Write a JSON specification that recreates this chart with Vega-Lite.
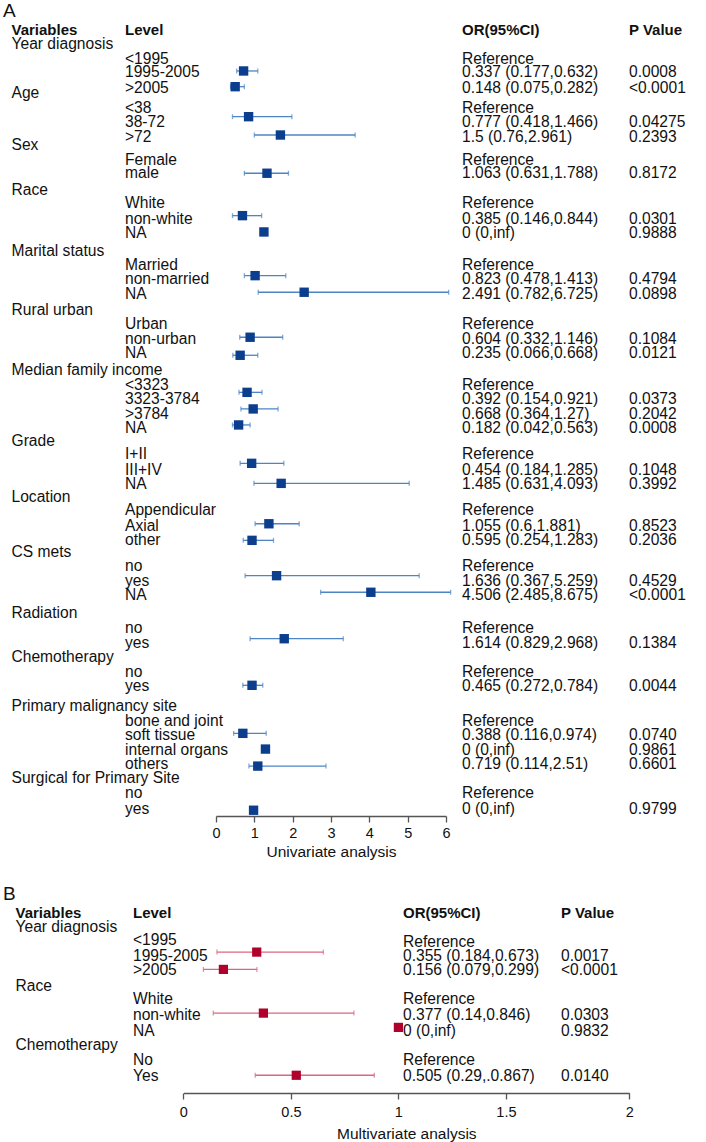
{
  "$schema": "https://vega.github.io/schema/vega-lite/v6.json",
  "padding": 0,
  "background": "white",
  "bounds": "flush",
  "spacing": 65,
  "config": {"view": {"stroke": null}, "font": "Liberation Sans", "axis": {"grid": false}, "text": {"color": "#111"}},
  "datasets": {
    "tableA": [
      {"role":"panel","col":0,"line":-2.3,"text":"A"},
      {"role":"header","col":1,"line":-1.0,"text":"Variables"},
      {"role":"header","col":2,"line":-1.0,"text":"Level"},
      {"role":"header","col":3,"line":-1.0,"text":"OR(95%CI)"},
      {"role":"header","col":4,"line":-1.0,"text":"P Value"},
      {"role":"cell","col":1,"line":0.0,"text":"Year diagnosis"},
      {"role":"cell","col":2,"line":1.0,"text":"<1995"},
      {"role":"cell","col":3,"line":1.0,"text":"Reference"},
      {"role":"cell","col":2,"line":1.9,"text":"1995-2005"},
      {"role":"cell","col":3,"line":1.9,"text":"0.337 (0.177,0.632)"},
      {"role":"cell","col":4,"line":1.9,"text":"0.0008"},
      {"role":"cell","col":2,"line":3.0,"text":">2005"},
      {"role":"cell","col":3,"line":3.0,"text":"0.148 (0.075,0.282)"},
      {"role":"cell","col":4,"line":3.0,"text":"<0.0001"},
      {"role":"cell","col":1,"line":3.4,"text":"Age"},
      {"role":"cell","col":2,"line":4.4,"text":"<38"},
      {"role":"cell","col":3,"line":4.4,"text":"Reference"},
      {"role":"cell","col":2,"line":5.4,"text":"38-72"},
      {"role":"cell","col":3,"line":5.4,"text":"0.777 (0.418,1.466)"},
      {"role":"cell","col":4,"line":5.4,"text":"0.04275"},
      {"role":"cell","col":2,"line":6.4,"text":">72"},
      {"role":"cell","col":3,"line":6.4,"text":"1.5 (0.76,2.961)"},
      {"role":"cell","col":4,"line":6.4,"text":"0.2393"},
      {"role":"cell","col":1,"line":7.0,"text":"Sex"},
      {"role":"cell","col":2,"line":8.0,"text":"Female"},
      {"role":"cell","col":3,"line":8.0,"text":"Reference"},
      {"role":"cell","col":2,"line":8.9,"text":"male"},
      {"role":"cell","col":3,"line":8.9,"text":"1.063 (0.631,1.788)"},
      {"role":"cell","col":4,"line":8.9,"text":"0.8172"},
      {"role":"cell","col":1,"line":10.1,"text":"Race"},
      {"role":"cell","col":2,"line":11.0,"text":"White"},
      {"role":"cell","col":3,"line":11.0,"text":"Reference"},
      {"role":"cell","col":2,"line":12.1,"text":"non-white"},
      {"role":"cell","col":3,"line":12.1,"text":"0.385 (0.146,0.844)"},
      {"role":"cell","col":4,"line":12.1,"text":"0.0301"},
      {"role":"cell","col":2,"line":13.1,"text":"NA"},
      {"role":"cell","col":3,"line":13.1,"text":"0 (0,inf)"},
      {"role":"cell","col":4,"line":13.1,"text":"0.9888"},
      {"role":"cell","col":1,"line":14.3,"text":"Marital status"},
      {"role":"cell","col":2,"line":15.3,"text":"Married"},
      {"role":"cell","col":3,"line":15.3,"text":"Reference"},
      {"role":"cell","col":2,"line":16.3,"text":"non-married"},
      {"role":"cell","col":3,"line":16.3,"text":"0.823 (0.478,1.413)"},
      {"role":"cell","col":4,"line":16.3,"text":"0.4794"},
      {"role":"cell","col":2,"line":17.3,"text":"NA"},
      {"role":"cell","col":3,"line":17.3,"text":"2.491 (0.782,6.725)"},
      {"role":"cell","col":4,"line":17.3,"text":"0.0898"},
      {"role":"cell","col":1,"line":18.4,"text":"Rural urban"},
      {"role":"cell","col":2,"line":19.4,"text":"Urban"},
      {"role":"cell","col":3,"line":19.4,"text":"Reference"},
      {"role":"cell","col":2,"line":20.4,"text":"non-urban"},
      {"role":"cell","col":3,"line":20.4,"text":"0.604 (0.332,1.146)"},
      {"role":"cell","col":4,"line":20.4,"text":"0.1084"},
      {"role":"cell","col":2,"line":21.4,"text":"NA"},
      {"role":"cell","col":3,"line":21.4,"text":"0.235 (0.066,0.668)"},
      {"role":"cell","col":4,"line":21.4,"text":"0.0121"},
      {"role":"cell","col":1,"line":22.6,"text":"Median family income"},
      {"role":"cell","col":2,"line":23.6,"text":"<3323"},
      {"role":"cell","col":3,"line":23.6,"text":"Reference"},
      {"role":"cell","col":2,"line":24.6,"text":"3323-3784"},
      {"role":"cell","col":3,"line":24.6,"text":"0.392 (0.154,0.921)"},
      {"role":"cell","col":4,"line":24.6,"text":"0.0373"},
      {"role":"cell","col":2,"line":25.6,"text":">3784"},
      {"role":"cell","col":3,"line":25.6,"text":"0.668 (0.364,1.27)"},
      {"role":"cell","col":4,"line":25.6,"text":"0.2042"},
      {"role":"cell","col":2,"line":26.6,"text":"NA"},
      {"role":"cell","col":3,"line":26.6,"text":"0.182 (0.042,0.563)"},
      {"role":"cell","col":4,"line":26.6,"text":"0.0008"},
      {"role":"cell","col":1,"line":27.5,"text":"Grade"},
      {"role":"cell","col":2,"line":28.4,"text":"I+II"},
      {"role":"cell","col":3,"line":28.4,"text":"Reference"},
      {"role":"cell","col":2,"line":29.5,"text":"III+IV"},
      {"role":"cell","col":3,"line":29.5,"text":"0.454 (0.184,1.285)"},
      {"role":"cell","col":4,"line":29.5,"text":"0.1048"},
      {"role":"cell","col":2,"line":30.5,"text":"NA"},
      {"role":"cell","col":3,"line":30.5,"text":"1.485 (0.631,4.093)"},
      {"role":"cell","col":4,"line":30.5,"text":"0.3992"},
      {"role":"cell","col":1,"line":31.4,"text":"Location"},
      {"role":"cell","col":2,"line":32.3,"text":"Appendicular"},
      {"role":"cell","col":3,"line":32.3,"text":"Reference"},
      {"role":"cell","col":2,"line":33.4,"text":"Axial"},
      {"role":"cell","col":3,"line":33.4,"text":"1.055 (0.6,1.881)"},
      {"role":"cell","col":4,"line":33.4,"text":"0.8523"},
      {"role":"cell","col":2,"line":34.4,"text":"other"},
      {"role":"cell","col":3,"line":34.4,"text":"0.595 (0.254,1.283)"},
      {"role":"cell","col":4,"line":34.4,"text":"0.2036"},
      {"role":"cell","col":1,"line":35.2,"text":"CS mets"},
      {"role":"cell","col":2,"line":36.2,"text":"no"},
      {"role":"cell","col":3,"line":36.2,"text":"Reference"},
      {"role":"cell","col":2,"line":37.2,"text":"yes"},
      {"role":"cell","col":3,"line":37.2,"text":"1.636 (0.367,5.259)"},
      {"role":"cell","col":4,"line":37.2,"text":"0.4529"},
      {"role":"cell","col":2,"line":38.2,"text":"NA"},
      {"role":"cell","col":3,"line":38.2,"text":"4.506 (2.485,8.675)"},
      {"role":"cell","col":4,"line":38.2,"text":"<0.0001"},
      {"role":"cell","col":1,"line":39.4,"text":"Radiation"},
      {"role":"cell","col":2,"line":40.5,"text":"no"},
      {"role":"cell","col":3,"line":40.5,"text":"Reference"},
      {"role":"cell","col":2,"line":41.5,"text":"yes"},
      {"role":"cell","col":3,"line":41.5,"text":"1.614 (0.829,2.968)"},
      {"role":"cell","col":4,"line":41.5,"text":"0.1384"},
      {"role":"cell","col":1,"line":42.5,"text":"Chemotherapy"},
      {"role":"cell","col":2,"line":43.5,"text":"no"},
      {"role":"cell","col":3,"line":43.5,"text":"Reference"},
      {"role":"cell","col":2,"line":44.5,"text":"yes"},
      {"role":"cell","col":3,"line":44.5,"text":"0.465 (0.272,0.784)"},
      {"role":"cell","col":4,"line":44.5,"text":"0.0044"},
      {"role":"cell","col":1,"line":45.9,"text":"Primary malignancy site"},
      {"role":"cell","col":2,"line":46.9,"text":"bone and joint"},
      {"role":"cell","col":3,"line":46.9,"text":"Reference"},
      {"role":"cell","col":2,"line":47.9,"text":"soft tissue"},
      {"role":"cell","col":3,"line":47.9,"text":"0.388 (0.116,0.974)"},
      {"role":"cell","col":4,"line":47.9,"text":"0.0740"},
      {"role":"cell","col":2,"line":48.9,"text":"internal organs"},
      {"role":"cell","col":3,"line":48.9,"text":"0 (0,inf)"},
      {"role":"cell","col":4,"line":48.9,"text":"0.9861"},
      {"role":"cell","col":2,"line":49.9,"text":"others"},
      {"role":"cell","col":3,"line":49.9,"text":"0.719 (0.114,2.51)"},
      {"role":"cell","col":4,"line":49.9,"text":"0.6601"},
      {"role":"cell","col":1,"line":50.9,"text":"Surgical for Primary Site"},
      {"role":"cell","col":2,"line":51.9,"text":"no"},
      {"role":"cell","col":3,"line":51.9,"text":"Reference"},
      {"role":"cell","col":2,"line":53.0,"text":"yes"},
      {"role":"cell","col":3,"line":53.0,"text":"0 (0,inf)"},
      {"role":"cell","col":4,"line":53.0,"text":"0.9799"}
    ],
    "forestA": [
      {"level":"1995-2005","or":0.72,"lo":0.54,"hi":1.09,"line":1.85},
      {"level":">2005","or":0.5,"lo":0.38,"hi":0.74,"line":2.94},
      {"level":"38-72","or":0.85,"lo":0.43,"hi":1.98,"line":5.02},
      {"level":">72","or":1.68,"lo":1.0,"hi":3.63,"line":6.29},
      {"level":"male","or":1.33,"lo":0.74,"hi":1.89,"line":8.94},
      {"level":"non-white","or":0.69,"lo":0.43,"hi":1.19,"line":11.88},
      {"level":"NA (race)","or":1.25,"lo":null,"hi":null,"line":13.01},
      {"level":"non-married","or":1.02,"lo":0.74,"hi":1.82,"line":16.04},
      {"level":"NA (marital)","or":2.3,"lo":1.1,"hi":6.07,"line":17.19},
      {"level":"non-urban","or":0.89,"lo":0.62,"hi":1.74,"line":20.31},
      {"level":"NA (rural)","or":0.63,"lo":0.44,"hi":1.09,"line":21.56},
      {"level":"3323-3784","or":0.81,"lo":0.6,"hi":1.2,"line":24.13},
      {"level":">3784","or":0.97,"lo":0.65,"hi":1.62,"line":25.28},
      {"level":"NA (income)","or":0.59,"lo":0.43,"hi":0.89,"line":26.39},
      {"level":"III+IV","or":0.93,"lo":0.63,"hi":1.77,"line":29.05},
      {"level":"NA (grade)","or":1.7,"lo":0.99,"hi":5.04,"line":30.44},
      {"level":"Axial","or":1.38,"lo":1.02,"hi":2.17,"line":33.24},
      {"level":"other","or":0.94,"lo":0.71,"hi":1.5,"line":34.39},
      {"level":"yes (CS mets)","or":1.58,"lo":0.76,"hi":5.3,"line":36.84},
      {"level":"NA (CS mets)","or":4.04,"lo":2.73,"hi":6.12,"line":37.99},
      {"level":"yes (radiation)","or":1.78,"lo":0.89,"hi":3.32,"line":41.21},
      {"level":"yes (chemotherapy)","or":0.94,"lo":0.7,"hi":1.22,"line":44.44},
      {"level":"soft tissue","or":0.7,"lo":0.46,"hi":1.31,"line":47.77},
      {"level":"internal organs","or":1.29,"lo":null,"hi":null,"line":48.86},
      {"level":"others","or":1.09,"lo":0.86,"hi":2.87,"line":50.04},
      {"level":"yes (surgery)","or":0.98,"lo":null,"hi":null,"line":53.1}
    ],
    "tableB": [
      {"role":"panel","col":0,"line":-2.3,"text":"B"},
      {"role":"header","col":1,"line":-1.0,"text":"Variables"},
      {"role":"header","col":2,"line":-1.0,"text":"Level"},
      {"role":"header","col":3,"line":-1.0,"text":"OR(95%CI)"},
      {"role":"header","col":4,"line":-1.0,"text":"P Value"},
      {"role":"cell","col":1,"line":0.0,"text":"Year diagnosis"},
      {"role":"cell","col":2,"line":0.9,"text":"<1995"},
      {"role":"cell","col":3,"line":1.0,"text":"Reference"},
      {"role":"cell","col":2,"line":2.0,"text":"1995-2005"},
      {"role":"cell","col":3,"line":2.0,"text":"0.355 (0.184,0.673)"},
      {"role":"cell","col":4,"line":2.0,"text":"0.0017"},
      {"role":"cell","col":2,"line":3.0,"text":">2005"},
      {"role":"cell","col":3,"line":3.0,"text":"0.156 (0.079,0.299)"},
      {"role":"cell","col":4,"line":3.0,"text":"<0.0001"},
      {"role":"cell","col":1,"line":4.1,"text":"Race"},
      {"role":"cell","col":2,"line":5.0,"text":"White"},
      {"role":"cell","col":3,"line":5.0,"text":"Reference"},
      {"role":"cell","col":2,"line":6.1,"text":"non-white"},
      {"role":"cell","col":3,"line":6.1,"text":"0.377 (0.14,0.846)"},
      {"role":"cell","col":4,"line":6.1,"text":"0.0303"},
      {"role":"cell","col":2,"line":7.2,"text":"NA"},
      {"role":"cell","col":3,"line":7.2,"text":"0 (0,inf)"},
      {"role":"cell","col":4,"line":7.2,"text":"0.9832"},
      {"role":"cell","col":1,"line":8.2,"text":"Chemotherapy"},
      {"role":"cell","col":2,"line":9.2,"text":"No"},
      {"role":"cell","col":3,"line":9.2,"text":"Reference"},
      {"role":"cell","col":2,"line":10.3,"text":"Yes"},
      {"role":"cell","col":3,"line":10.3,"text":"0.505 (0.29,.0.867)"},
      {"role":"cell","col":4,"line":10.3,"text":"0.0140"}
    ],
    "forestB": [
      {"level":"1995-2005","or":0.341,"lo":0.156,"hi":0.651,"line":1.73},
      {"level":">2005","or":0.186,"lo":0.093,"hi":0.342,"line":2.93},
      {"level":"non-white","or":0.372,"lo":0.139,"hi":0.793,"line":5.96},
      {"level":"NA","or":1.0,"lo":null,"hi":null,"line":6.95},
      {"level":"Yes","or":0.525,"lo":0.334,"hi":0.888,"line":10.27}
    ]
  },
  "vconcat": [
    {
      "width": 706,
      "height": 816,
      "resolve": {"scale": {"x": "independent"}},
      "encoding": {"y": {"field": "line", "type": "quantitative", "scale": {"domain": [-3.07, 53.5], "reverse": true, "nice": false, "zero": false}, "axis": null}},
      "layer": [
        {
          "data": {"name": "tableA"},
          "encoding": {"x": {"field": "col", "type": "quantitative", "scale": {"domain": [0, 1, 2, 3, 4, 5], "range": [3, 11.5, 125, 462, 629, 703], "nice": false, "zero": false}, "axis": null}},
          "layer": [
            {"transform": [{"filter": "datum.role == 'panel'"}], "mark": {"type": "text", "align": "left", "baseline": "middle", "fontSize": 19}, "encoding": {"text": {"field": "text"}}},
            {"transform": [{"filter": "datum.role == 'header'"}], "mark": {"type": "text", "align": "left", "baseline": "middle", "fontSize": 15, "fontWeight": "bold"}, "encoding": {"text": {"field": "text"}}},
            {"transform": [{"filter": "datum.role == 'cell'"}], "mark": {"type": "text", "align": "left", "baseline": "middle", "fontSize": 15.6}, "encoding": {"text": {"field": "text"}}},
            {"data": {"values": [{}]}, "mark": {"type": "rule", "color": "#555", "strokeWidth": 1.3}, "encoding": {"x": {"datum": 0, "type": "quantitative"}, "x2": {"datum": 5}, "y": {"datum": -0.55, "type": "quantitative"}}}
          ]
        },
        {
          "data": {"name": "forestA"},
          "encoding": {"x": {"field": "or", "type": "quantitative", "scale": {"domain": [0, 6], "range": [216, 446], "nice": false, "zero": false},
            "axis": {"values": [0, 1, 2, 3, 4, 5, 6], "title": "Univariate analysis", "domainColor": "#555", "tickColor": "#555", "domainWidth": 1.3, "tickWidth": 1.3, "tickSize": 6, "labelFontSize": 14.5, "labelColor": "#111", "labelPadding": 4, "titleFontSize": 15.5, "titleFontWeight": "normal", "titleColor": "#111", "titlePadding": 5, "labelFlush": false}}},
          "layer": [
            {"data": {"values": [{}]}, "mark": {"type": "rule", "color": "#3d7cc9", "strokeDash": [2, 2], "strokeWidth": 1.2}, "encoding": {"x": {"datum": 1.23, "type": "quantitative"}, "x2": {"datum": 1.35}, "y": {"datum": -0.5, "type": "quantitative"}, "y2": {"datum": 53.5}}},
            {"transform": [{"filter": "isValid(datum.lo)"}], "mark": {"type": "errorbar", "color": "#4d84c4", "thickness": 1.3, "ticks": {"size": 5}}, "encoding": {"x": {"field": "lo", "type": "quantitative"}, "x2": {"field": "hi"}, "y": {"field": "line", "type": "quantitative"}}},
            {"mark": {"type": "square", "size": 88, "color": "#0b3e8c", "filled": true, "opacity": 1}, "encoding": {}}
          ]
        }
      ]
    },
    {
      "width": 706,
      "height": 212,
      "resolve": {"scale": {"x": "independent"}},
      "encoding": {"y": {"field": "line", "type": "quantitative", "scale": {"domain": [-3.2, 11.5], "reverse": true, "nice": false, "zero": false}, "axis": null}},
      "layer": [
        {
          "data": {"name": "tableB"},
          "encoding": {"x": {"field": "col", "type": "quantitative", "scale": {"domain": [0, 1, 2, 3, 4, 5], "range": [3, 15.5, 133, 403, 561, 630], "nice": false, "zero": false}, "axis": null}},
          "layer": [
            {"transform": [{"filter": "datum.role == 'panel'"}], "mark": {"type": "text", "align": "left", "baseline": "middle", "fontSize": 19}, "encoding": {"text": {"field": "text"}}},
            {"transform": [{"filter": "datum.role == 'header'"}], "mark": {"type": "text", "align": "left", "baseline": "middle", "fontSize": 15, "fontWeight": "bold"}, "encoding": {"text": {"field": "text"}}},
            {"transform": [{"filter": "datum.role == 'cell'"}], "mark": {"type": "text", "align": "left", "baseline": "middle", "fontSize": 15.6}, "encoding": {"text": {"field": "text"}}},
            {"data": {"values": [{}]}, "mark": {"type": "rule", "color": "#555", "strokeWidth": 1.3}, "encoding": {"x": {"datum": 0.8, "type": "quantitative"}, "x2": {"datum": 5}, "y": {"datum": -0.5, "type": "quantitative"}}}
          ]
        },
        {
          "data": {"name": "forestB"},
          "encoding": {"x": {"field": "or", "type": "quantitative", "scale": {"domain": [0, 1.5, 2], "range": [183.4, 505.9, 629.3], "nice": false, "zero": false},
            "axis": {"values": [0, 0.5, 1, 1.5, 2], "format": "~g", "title": "Multivariate analysis", "domainColor": "#555", "tickColor": "#555", "domainWidth": 1.3, "tickWidth": 1.3, "tickSize": 6, "labelFontSize": 14.5, "labelColor": "#111", "labelPadding": 6, "titleFontSize": 15.5, "titleFontWeight": "normal", "titleColor": "#111", "titlePadding": 8, "labelFlush": false}}},
          "layer": [
            {"data": {"values": [{}]}, "mark": {"type": "rule", "color": "#555", "strokeDash": [2, 2], "strokeWidth": 1.2}, "encoding": {"x": {"datum": 1, "type": "quantitative"}, "y": {"datum": -0.45, "type": "quantitative"}, "y2": {"datum": 11.5}}},
            {"transform": [{"filter": "isValid(datum.lo)"}], "mark": {"type": "errorbar", "color": "#dc6680", "thickness": 1.3, "ticks": {"size": 5}}, "encoding": {"x": {"field": "lo", "type": "quantitative"}, "x2": {"field": "hi"}, "y": {"field": "line", "type": "quantitative"}}},
            {"mark": {"type": "square", "size": 85, "color": "#b0002c", "filled": true, "opacity": 1}, "encoding": {}}
          ]
        }
      ]
    }
  ]
}
